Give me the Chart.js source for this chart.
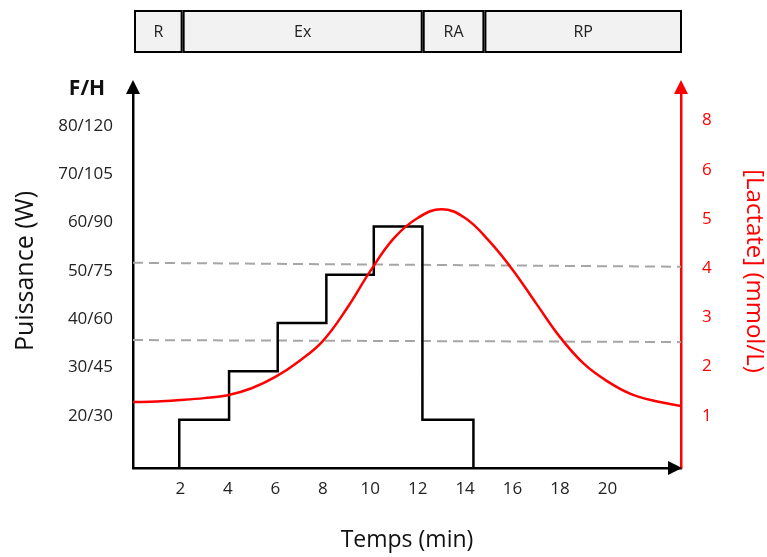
<!DOCTYPE html>
<html>
<head>
<meta charset="utf-8">
<script src="https://cdn.jsdelivr.net/npm/chart.js@4"></script>
<style>
  html, body { margin: 0; padding: 0; background: #fff; }
  #wrap { width: 767px; height: 557px; }
</style>
</head>
<body>
<div id="wrap"><canvas id="graf"></canvas></div>
<script>
// phases (min)
const PHASES = ["R", "Ex", "RA", "RP"];
const PHASE_LIMITS = [0, 2.05, 12.17, 14.77, 23.1];

// puissance en escalier (W)
const STEP_TIMES = [1.95, 1.95, 4.05, 6.1, 8.15, 10.15, 12.2, 14.35];
const STEP_POWER = [10, 20, 30, 40, 50, 60, 20, 10];

// lactate (mmol/L), lu minute par minute
const LACT_TIMES = [0, 1, 2, 3, 4, 5, 6, 7, 8, 9, 10, 11, 12, 13, 14, 15, 16, 17, 18, 19, 20, 21, 22, 23.1];
const LACT_VALUES = [1.34, 1.35, 1.38, 1.42, 1.48, 1.62, 1.85, 2.17, 2.58, 3.23, 4.0, 4.67, 5.08, 5.26, 5.08, 4.62, 4.03, 3.34, 2.66, 2.12, 1.76, 1.5, 1.36, 1.26];

// seuils (pointillés)
const SEUIL_TIMES = [0, 23.1];
const SEUIL_HAUT = [4.17, 4.09];
const SEUIL_BAS = [2.6, 2.56];

// graduations
const X_TICKS = [2, 4, 6, 8, 10, 12, 14, 16, 18, 20];
const W_TICKS = [20, 30, 40, 50, 60, 70, 80];
const W_LABELS = ["20/30", "30/45", "40/60", "50/75", "60/90", "70/105", "80/120"];
const L_TICKS = [1, 2, 3, 4, 5, 6, 7];
const L_LABELS = ["1", "2", "3", "4", "5", "6", "8"];

const FONT = "'Open Sans', sans-serif";
const ROUGE = "#ff0000";

const toPoints = (xs, ys) => xs.map((x, i) => ({ x: x, y: ys[i] }));

const decor = {
  id: "decor",
  afterDraw(chart) {
    const ctx = chart.ctx;
    const a = chart.chartArea;
    const x = chart.scales.x;
    ctx.save();

    // barre des phases
    ctx.lineWidth = 2;
    ctx.strokeStyle = "#000";
    ctx.font = "16px " + FONT;
    ctx.textAlign = "center";
    ctx.textBaseline = "middle";
    for (let i = 0; i < PHASES.length; i++) {
      const x1 = x.getPixelForValue(PHASE_LIMITS[i]) + 2;
      const x2 = x.getPixelForValue(PHASE_LIMITS[i + 1]);
      ctx.fillStyle = "#f2f2f2";
      ctx.fillRect(x1, 11, x2 - x1, 41);
      ctx.strokeRect(x1, 11, x2 - x1, 41);
      ctx.fillStyle = "#222";
      ctx.fillText(PHASES[i], (x1 + x2) / 2, 32);
    }

    // fleches
    const fleche = (px, py, dir, color) => {
      ctx.fillStyle = color;
      ctx.beginPath();
      if (dir === "up") {
        ctx.moveTo(px, py - 14);
        ctx.lineTo(px - 7, py);
        ctx.lineTo(px + 7, py);
      } else {
        ctx.moveTo(px + 1, py);
        ctx.lineTo(px - 13, py - 7);
        ctx.lineTo(px - 13, py + 7);
      }
      ctx.closePath();
      ctx.fill();
    };
    fleche(a.left, a.top, "up", "#000");
    fleche(a.right, a.top, "up", ROUGE);
    fleche(a.right, a.bottom, "right", "#000");

    // F/H
    ctx.fillStyle = "#111";
    ctx.font = "bold 21px " + FONT;
    ctx.fillText("F/H", 87, 89);

    // titres des axes verticaux
    ctx.font = "25px " + FONT;
    ctx.save();
    ctx.translate(26, 271);
    ctx.rotate(-Math.PI / 2);
    ctx.fillText("Puissance (W)", 0, 0);
    ctx.restore();

    ctx.fillStyle = ROUGE;
    ctx.font = "24px " + FONT;
    ctx.translate(754, 271);
    ctx.rotate(Math.PI / 2);
    ctx.fillText("[Lactate] (mmol/L)", 0, 0);
    ctx.restore();
  }
};

new Chart(document.getElementById("graf"), {
  type: "line",
  data: {
    datasets: [
      {
        data: toPoints(LACT_TIMES, LACT_VALUES),
        yAxisID: "yL",
        borderColor: ROUGE,
        borderWidth: 2.5,
        tension: 0.4,
        pointRadius: 0,
        order: 1,
      },
      {
        data: toPoints(STEP_TIMES, STEP_POWER),
        yAxisID: "yW",
        borderColor: "#000",
        borderWidth: 2.5,
        stepped: "before",
        pointRadius: 0,
        order: 2,
      },
      {
        data: toPoints(SEUIL_TIMES, SEUIL_HAUT),
        yAxisID: "yL",
        borderColor: "#a6a6a6",
        borderWidth: 2,
        borderDash: [10, 6],
        pointRadius: 0,
        order: 3,
      },
      {
        data: toPoints(SEUIL_TIMES, SEUIL_BAS),
        yAxisID: "yL",
        borderColor: "#a6a6a6",
        borderWidth: 2,
        borderDash: [10, 6],
        pointRadius: 0,
        order: 3,
      },
    ],
  },
  options: {
    responsive: true,
    maintainAspectRatio: false,
    animation: false,
    layout: { padding: { top: 94, left: 0, right: 0, bottom: 0 } },
    plugins: { legend: { display: false }, tooltip: { enabled: false } },
    scales: {
      x: {
        type: "linear",
        min: 0,
        max: 23.1,
        afterBuildTicks: (s) => { s.ticks = X_TICKS.map((v) => ({ value: v })); },
        afterFit: (s) => { s.height = 89; },
        grid: { display: false, drawTicks: false },
        border: { display: true, color: "#000", width: 2.5 },
        ticks: { color: "#222", padding: 11, font: { family: FONT, size: 17 } },
        title: {
          display: true,
          text: "Temps (min)",
          color: "#111",
          font: { family: FONT, size: 23 },
          padding: { top: 0, bottom: 3 },
        },
      },
      yW: {
        position: "left",
        min: 10,
        max: 87.4,
        afterBuildTicks: (s) => { s.ticks = W_TICKS.map((v) => ({ value: v })); },
        afterFit: (s) => { s.width = 133; },
        grid: { display: false, drawTicks: false },
        border: { display: true, color: "#000", width: 2.5 },
        ticks: {
          color: "#222",
          padding: 20,
          labelOffset: -4,
          font: { family: FONT, size: 17 },
          callback: (v) => W_LABELS[W_TICKS.indexOf(v)],
        },
      },
      yL: {
        position: "right",
        min: 0,
        max: 7.6,
        afterBuildTicks: (s) => { s.ticks = L_TICKS.map((v) => ({ value: v })); },
        afterFit: (s) => { s.width = 86; },
        grid: { display: false, drawTicks: false },
        border: { display: true, color: ROUGE, width: 2.5 },
        ticks: {
          color: ROUGE,
          padding: 21,
          labelOffset: -3,
          font: { family: FONT, size: 17 },
          callback: (v) => L_LABELS[L_TICKS.indexOf(v)],
        },
      },
    },
  },
  plugins: [decor],
});
</script>
</body>
</html>
